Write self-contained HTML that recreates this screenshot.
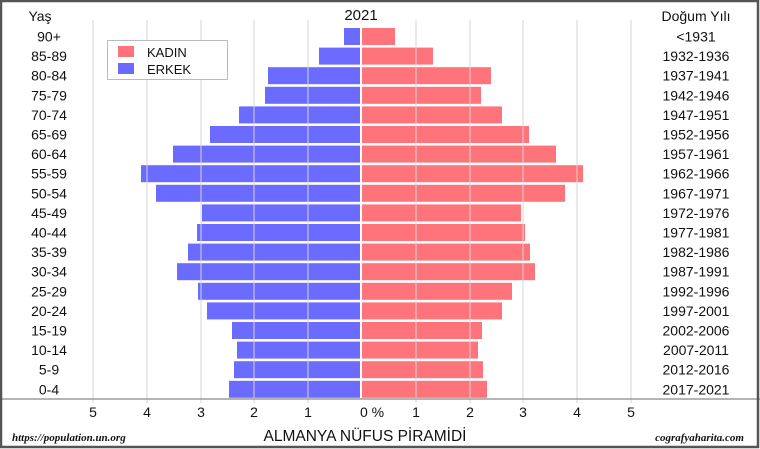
<!DOCTYPE html>
<html><head><meta charset="utf-8"><style>
body{margin:0;background:#fff}
svg{display:block;font-family:"Liberation Sans",sans-serif}
</style></head><body>
<svg width="760" height="449" xmlns="http://www.w3.org/2000/svg">
<rect x="0" y="0" width="760" height="449" fill="#fff"/>
<g fill="#6b6bff">
<rect x="344" y="28" width="16" height="17"/>
<rect x="319" y="47.6" width="41" height="17"/>
<rect x="268" y="67.2" width="92" height="17"/>
<rect x="265" y="86.8" width="95" height="17"/>
<rect x="239" y="106.4" width="121" height="17"/>
<rect x="210" y="126" width="150" height="17"/>
<rect x="173" y="145.6" width="187" height="17"/>
<rect x="141" y="165.2" width="219" height="17"/>
<rect x="156" y="184.8" width="204" height="17"/>
<rect x="202" y="204.4" width="158" height="17"/>
<rect x="197" y="224" width="163" height="17"/>
<rect x="188" y="243.6" width="172" height="17"/>
<rect x="177" y="263.2" width="183" height="17"/>
<rect x="198" y="282.8" width="162" height="17"/>
<rect x="207" y="302.4" width="153" height="17"/>
<rect x="232" y="322" width="128" height="17"/>
<rect x="237" y="341.6" width="123" height="17"/>
<rect x="234" y="361.2" width="126" height="17"/>
<rect x="229" y="380.8" width="131" height="17"/>
</g>
<g fill="#ff737a">
<rect x="362" y="28" width="33" height="17"/>
<rect x="362" y="47.6" width="71" height="17"/>
<rect x="362" y="67.2" width="129" height="17"/>
<rect x="362" y="86.8" width="119" height="17"/>
<rect x="362" y="106.4" width="140" height="17"/>
<rect x="362" y="126" width="167" height="17"/>
<rect x="362" y="145.6" width="194" height="17"/>
<rect x="362" y="165.2" width="221" height="17"/>
<rect x="362" y="184.8" width="203" height="17"/>
<rect x="362" y="204.4" width="159" height="17"/>
<rect x="362" y="224" width="163" height="17"/>
<rect x="362" y="243.6" width="168" height="17"/>
<rect x="362" y="263.2" width="173" height="17"/>
<rect x="362" y="282.8" width="150" height="17"/>
<rect x="362" y="302.4" width="140" height="17"/>
<rect x="362" y="322" width="120" height="17"/>
<rect x="362" y="341.6" width="116" height="17"/>
<rect x="362" y="361.2" width="121" height="17"/>
<rect x="362" y="380.8" width="125" height="17"/>
</g>
<g stroke="#d4d4d4" stroke-width="1">
<line x1="93" y1="20" x2="93" y2="403"/>
<line x1="147" y1="20" x2="147" y2="403"/>
<line x1="201" y1="20" x2="201" y2="403"/>
<line x1="254" y1="20" x2="254" y2="403"/>
<line x1="308" y1="20" x2="308" y2="403"/>
<line x1="416" y1="20" x2="416" y2="403"/>
<line x1="470" y1="20" x2="470" y2="403"/>
<line x1="523" y1="20" x2="523" y2="403"/>
<line x1="577" y1="20" x2="577" y2="403"/>
<line x1="631" y1="20" x2="631" y2="403"/>
</g>
<g font-size="14" text-anchor="middle" fill="#111">
<text x="49" y="41.5">90+</text>
<text x="49" y="61.1">85-89</text>
<text x="49" y="80.7">80-84</text>
<text x="49" y="100.3">75-79</text>
<text x="49" y="119.9">70-74</text>
<text x="49" y="139.5">65-69</text>
<text x="49" y="159.1">60-64</text>
<text x="49" y="178.7">55-59</text>
<text x="49" y="198.3">50-54</text>
<text x="49" y="217.9">45-49</text>
<text x="49" y="237.5">40-44</text>
<text x="49" y="257.1">35-39</text>
<text x="49" y="276.7">30-34</text>
<text x="49" y="296.3">25-29</text>
<text x="49" y="315.9">20-24</text>
<text x="49" y="335.5">15-19</text>
<text x="49" y="355.1">10-14</text>
<text x="49" y="374.7">5-9</text>
<text x="49" y="394.3">0-4</text>
<text x="696" y="41.5">&lt;1931</text>
<text x="696" y="61.1">1932-1936</text>
<text x="696" y="80.7">1937-1941</text>
<text x="696" y="100.3">1942-1946</text>
<text x="696" y="119.9">1947-1951</text>
<text x="696" y="139.5">1952-1956</text>
<text x="696" y="159.1">1957-1961</text>
<text x="696" y="178.7">1962-1966</text>
<text x="696" y="198.3">1967-1971</text>
<text x="696" y="217.9">1972-1976</text>
<text x="696" y="237.5">1977-1981</text>
<text x="696" y="257.1">1982-1986</text>
<text x="696" y="276.7">1987-1991</text>
<text x="696" y="296.3">1992-1996</text>
<text x="696" y="315.9">1997-2001</text>
<text x="696" y="335.5">2002-2006</text>
<text x="696" y="355.1">2007-2011</text>
<text x="696" y="374.7">2012-2016</text>
<text x="696" y="394.3">2017-2021</text>
<text x="93" y="417">5</text>
<text x="147" y="417">4</text>
<text x="201" y="417">3</text>
<text x="254" y="417">2</text>
<text x="308" y="417">1</text>
<text x="416" y="417">1</text>
<text x="470" y="417">2</text>
<text x="523" y="417">3</text>
<text x="577" y="417">4</text>
<text x="631" y="417">5</text>
<text x="372" y="417">0 %</text>
</g>
<line x1="0" y1="399" x2="760" y2="399" stroke="#888" stroke-width="1.3"/>
<text x="40" y="21" font-size="14" text-anchor="middle" fill="#111">Yaş</text>
<text x="361" y="20" font-size="15" text-anchor="middle" fill="#111">2021</text>
<text x="696" y="21" font-size="14" text-anchor="middle" fill="#111">Doğum Yılı</text>
<rect x="107.5" y="40.5" width="120" height="39" fill="#fff" stroke="#bbb"/>
<rect x="118" y="46" width="16" height="11" fill="#ff737a"/>
<rect x="118" y="63" width="16" height="11" fill="#6b6bff"/>
<text x="147" y="57" font-size="13" fill="#111">KADIN</text>
<text x="147" y="74" font-size="13" fill="#111">ERKEK</text>
<text x="365" y="441" font-size="15.5" text-anchor="middle" fill="#111">ALMANYA NÜFUS PİRAMİDİ</text>
<text x="12" y="441" font-size="11" font-style="italic" font-weight="bold" font-family="Liberation Serif,serif" fill="#111">https://population.un.org</text>
<text x="744" y="441" font-size="11" font-style="italic" font-weight="bold" font-family="Liberation Serif,serif" text-anchor="end" fill="#111">cografyaharita.com</text>
<rect x="1" y="1" width="757" height="446" fill="none" stroke="#555" stroke-width="2.5"/>
</svg>
</body></html>
